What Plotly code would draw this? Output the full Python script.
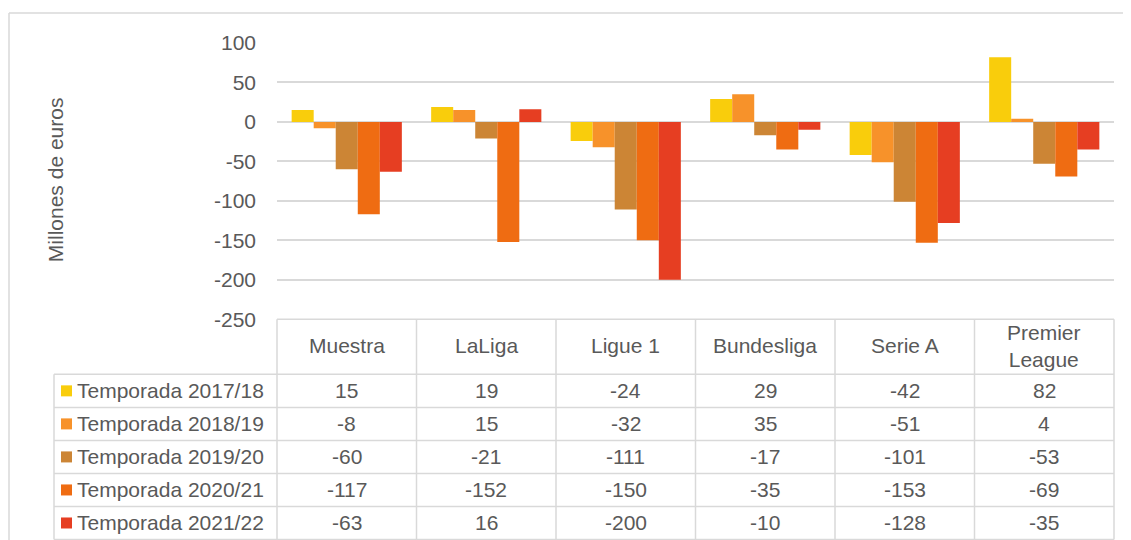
import plotly.graph_objects as go

W, H = 1131, 540
PAD = 8
FW, FH = W - 2 * PAD, 560
# measured: the page is shown with a vertical offset and slight vertical squeeze
Y_OFF, Y_SCALE = 19, 0.958

leagues = ["Muestra", "LaLiga", "Ligue 1", "Bundesliga", "Serie A", "Premier League"]
league_labels = ["Muestra", "LaLiga", "Ligue 1", "Bundesliga", "Serie A", "Premier<br>League"]
seasons = [
    "Temporada 2017/18",
    "Temporada 2018/19",
    "Temporada 2019/20",
    "Temporada 2020/21",
    "Temporada 2021/22",
]
v_2017_18 = [15, 19, -24, 29, -42, 82]
v_2018_19 = [-8, 15, -32, 35, -51, 4]
v_2019_20 = [-60, -21, -111, -17, -101, -53]
v_2020_21 = [-117, -152, -150, -35, -153, -69]
v_2021_22 = [-63, 16, -200, -10, -128, -35]
values = [v_2017_18, v_2018_19, v_2019_20, v_2020_21, v_2021_22]
colors = ["#f9cd0c", "#f7922a", "#cc8535", "#ef6c12", "#e63e22"]

y_ticks = [100, 50, 0, -50, -100, -150, -200, -250]
y_tick_labels = ["100", "50", "0", "-50", "-100", "-150", "-200", "-250"]

FONT = "Liberation Sans, Arial, sans-serif"
FS = 21
TXT = "#595959"
GRID = "#d9d9d9"


def px_x(x):
    # window pixel -> paper coordinate
    return (x - PAD) / FW


def px_y(y):
    return 1 - ((y - Y_OFF) / Y_SCALE) / FH


# plot area and table geometry (window pixels)
X0, X1 = 277, 1114
Y_TOP, Y_BOT = 42, 318
HEAD_BOT = 373
ROW_H = 33
LEG_X0 = 54
col_w = (X1 - X0) / len(leagues)

fig = go.Figure()
for name, vals, c in zip(seasons, values, colors):
    fig.add_trace(go.Bar(x=leagues, y=vals, name=name, marker_color=c,
                         marker_line_width=0))

shapes = []
line = dict(color=GRID, width=1.5)
# outer chart border
shapes.append(dict(type="line", xref="paper", yref="paper", x0=px_x(9), x1=1,
                   y0=px_y(12), y1=px_y(12), line=line))
shapes.append(dict(type="line", xref="paper", yref="paper", x0=px_x(9), x1=px_x(9),
                   y0=px_y(12), y1=0, line=line))
# table horizontal lines
shapes.append(dict(type="line", xref="paper", yref="paper", x0=px_x(X0), x1=px_x(X1),
                   y0=px_y(Y_BOT), y1=px_y(Y_BOT), line=line))
for i in range(len(seasons) + 1):
    y = HEAD_BOT + i * ROW_H
    shapes.append(dict(type="line", xref="paper", yref="paper", x0=px_x(LEG_X0),
                       x1=px_x(X1), y0=px_y(y), y1=px_y(y), line=line))
y_end = HEAD_BOT + len(seasons) * ROW_H
# table vertical lines
shapes.append(dict(type="line", xref="paper", yref="paper", x0=px_x(LEG_X0),
                   x1=px_x(LEG_X0), y0=px_y(HEAD_BOT), y1=px_y(y_end), line=line))
for j in range(len(leagues) + 1):
    x = X0 + j * col_w
    shapes.append(dict(type="line", xref="paper", yref="paper", x0=px_x(x), x1=px_x(x),
                       y0=px_y(Y_BOT), y1=px_y(y_end), line=line))

annotations = []
# header labels
for j, lab in enumerate(league_labels):
    annotations.append(dict(xref="paper", yref="paper", x=px_x(X0 + (j + 0.5) * col_w),
                            y=px_y((Y_BOT + HEAD_BOT) / 2 - 1), text=lab, showarrow=False,
                            xanchor="center", yanchor="middle",
                            font=dict(size=FS, color=TXT, family=FONT)))
# rows
for i, (name, vals, c) in enumerate(zip(seasons, values, colors)):
    yc = HEAD_BOT + (i + 0.5) * ROW_H
    shapes.append(dict(type="rect", xref="paper", yref="paper", x0=px_x(61), x1=px_x(72),
                       y0=px_y(yc + 5.5), y1=px_y(yc - 5.5), fillcolor=c,
                       line=dict(width=0)))
    annotations.append(dict(xref="paper", yref="paper", x=px_x(75), y=px_y(yc),
                            text=name, showarrow=False, xanchor="left", yanchor="middle",
                            font=dict(size=FS, color=TXT, family=FONT)))
    for j, v in enumerate(vals):
        annotations.append(dict(xref="paper", yref="paper",
                                x=px_x(X0 + (j + 0.5) * col_w), y=px_y(yc),
                                text=str(v), showarrow=False, xanchor="center",
                                yanchor="middle",
                                font=dict(size=FS, color=TXT, family=FONT)))
# y-axis title
annotations.append(dict(xref="paper", yref="paper", x=px_x(55), y=px_y(179),
                        text="Millones de euros", textangle=-90, showarrow=False,
                        xanchor="center", yanchor="middle",
                        font=dict(size=FS, color=TXT, family=FONT)))

fig.update_layout(
    width=FW, height=FH,
    margin=dict(l=0, r=0, t=0, b=0),
    paper_bgcolor="white", plot_bgcolor="white",
    barmode="group", bargap=0.21, bargroupgap=0,
    showlegend=False,
    font=dict(family=FONT, color=TXT, size=FS),
    shapes=shapes,
    annotations=annotations,
    xaxis=dict(domain=[px_x(X0), px_x(X1)], showticklabels=False, showgrid=False,
               showline=False, zeroline=False, ticks=""),
    yaxis=dict(domain=[px_y(Y_BOT), px_y(Y_TOP)], range=[-250, 100],
               tickvals=y_ticks, ticktext=y_tick_labels,
               showgrid=True, gridcolor=GRID, gridwidth=1.5, zeroline=True,
               zerolinecolor=GRID, zerolinewidth=1.5, showline=False, ticks="",
               ticklabelstandoff=20, tickfont=dict(size=FS, color=TXT, family=FONT)),
)

fig.write_html("out.html")
